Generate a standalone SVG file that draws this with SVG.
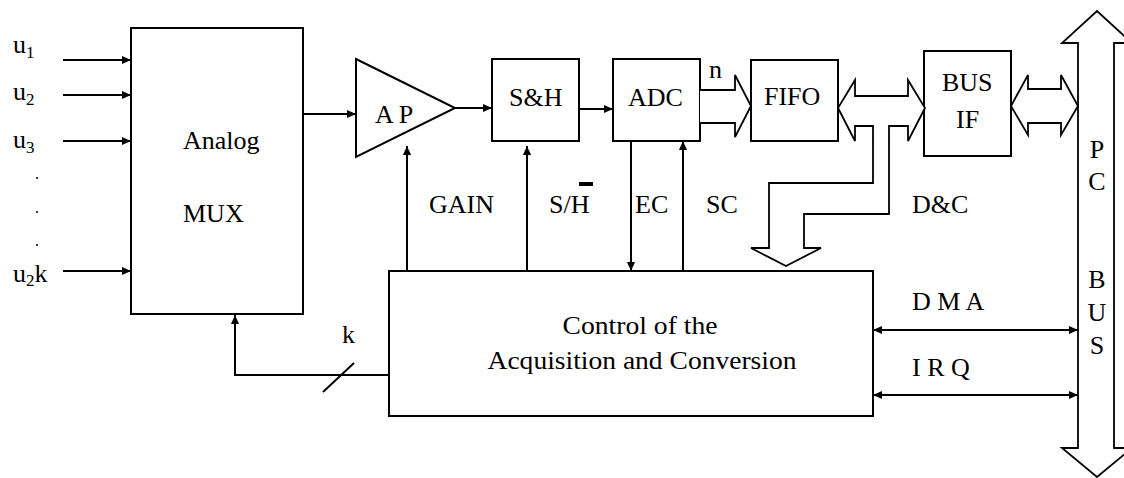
<svg xmlns="http://www.w3.org/2000/svg" width="1124" height="478" viewBox="0 0 1124 478">
<defs>
<style>
.bx{fill:none;stroke:#000;stroke-width:2}
.ln{fill:none;stroke:#000;stroke-width:2}
.fat{fill:#fff;stroke:#000;stroke-width:1.8;stroke-linejoin:miter}
text{font-family:'Liberation Serif','DejaVu Serif',serif;font-size:26px;fill:#000}
.sub{font-size:17px}
</style>
<marker id="ah" markerUnits="userSpaceOnUse" markerWidth="10" markerHeight="8" refX="9" refY="4" orient="auto-start-reverse">
<path d="M0,0 L9,4 L0,8 Z" fill="#000"/>
</marker>
</defs>
<rect x="0" y="0" width="1124" height="478" fill="#fff"/>

<g id="inputs">
<text x="13" y="53">u<tspan class="sub" dy="5">1</tspan></text>
<text x="13" y="100">u<tspan class="sub" dy="5">2</tspan></text>
<text x="13" y="148">u<tspan class="sub" dy="5">3</tspan></text>
<circle cx="37" cy="178" r="1" fill="#000"/>
<circle cx="37" cy="212" r="1" fill="#000"/>
<circle cx="37" cy="245" r="1" fill="#000"/>
<text x="13" y="282">u<tspan class="sub" dy="4">2</tspan><tspan dy="-4">k</tspan></text>
</g>

<g id="mux">
<rect class="bx" x="131" y="28" width="172" height="286"/>
<text x="183" y="149">Analog</text>
<text x="183" y="222">MUX</text>
</g>

<g id="amp">
<path class="bx" d="M356,59 L455,108 L356,157 Z"/>
<text x="375" y="123">A P</text>
</g>

<g id="sh">
<rect class="bx" x="492" y="59" width="87" height="82"/>
<text x="509" y="106">S&amp;H</text>
</g>

<g id="adc">
<rect class="bx" x="613" y="59" width="87" height="82"/>
<text x="628" y="106">ADC</text>
</g>

<g id="fifo">
<rect class="bx" x="751" y="60" width="87" height="81"/>
<text x="764" y="105">FIFO</text>
</g>

<g id="busif">
<rect class="bx" x="924" y="51" width="87" height="105"/>
<text x="942" y="91">BUS</text>
<text x="956" y="128">IF</text>
</g>

<g id="control">
<rect class="bx" x="389" y="271" width="484" height="145"/>
<text x="640" y="334" text-anchor="middle" textLength="155" lengthAdjust="spacingAndGlyphs">Control of the</text>
<text x="642" y="369" text-anchor="middle" textLength="309" lengthAdjust="spacingAndGlyphs">Acquisition and Conversion</text>
</g>

<g id="pcbus">
<path class="fat" d="M1078,43 L1062,43 L1097,11 L1132,43 L1114,43 L1114,448 L1132,448 L1097,477 L1062,448 L1078,448 Z"/>
<text x="1097" y="158" text-anchor="middle">P</text>
<text x="1097" y="190" text-anchor="middle">C</text>
<text x="1097" y="288" text-anchor="middle">B</text>
<text x="1097" y="321" text-anchor="middle">U</text>
<text x="1097" y="354" text-anchor="middle">S</text>
</g>

<g id="connectors">
<line class="ln" x1="63" y1="60" x2="131" y2="60" marker-end="url(#ah)"/>
<line class="ln" x1="63" y1="95" x2="131" y2="95" marker-end="url(#ah)"/>
<line class="ln" x1="63" y1="141" x2="131" y2="141" marker-end="url(#ah)"/>
<line class="ln" x1="63" y1="271" x2="131" y2="271" marker-end="url(#ah)"/>
<line class="ln" x1="303" y1="114" x2="356" y2="114" marker-end="url(#ah)"/>
<line class="ln" x1="455" y1="108" x2="492" y2="108" marker-end="url(#ah)"/>
<line class="ln" x1="579" y1="109" x2="613" y2="109" marker-end="url(#ah)"/>
<line class="ln" x1="407" y1="271" x2="407" y2="146" marker-end="url(#ah)"/>
<line class="ln" x1="527" y1="271" x2="527" y2="146" marker-end="url(#ah)"/>
<line class="ln" x1="631" y1="141" x2="631" y2="271" marker-end="url(#ah)"/>
<line class="ln" x1="683" y1="271" x2="683" y2="141" marker-end="url(#ah)"/>
<polyline class="ln" points="389,375 235,375 235,315" marker-end="url(#ah)"/>
<line class="ln" x1="323" y1="392" x2="354" y2="363" stroke-width="1.5"/>
<line class="ln" x1="873" y1="330" x2="1078" y2="330" marker-start="url(#ah)" marker-end="url(#ah)"/>
<line class="ln" x1="873" y1="395" x2="1078" y2="395" marker-start="url(#ah)" marker-end="url(#ah)"/>
<path class="fat" d="M700,90 L735,90 L735,75 L751,106 L735,137 L735,123 L700,123"/>
<path class="fat" d="M855,96 L908,96 L908,80 L925,108 L908,141 L908,126 L889,126 L889,214 L804,214 L804,248 L821,248 L786,266 L751,248 L769,248 L769,183 L873,183 L873,126 L855,126 L855,141 L838,108 L855,80 Z"/>
<path class="fat" d="M1028,89 L1061,89 L1061,75 L1078,106 L1061,135 L1061,123 L1028,123 L1028,135 L1011,106 L1028,75 Z"/>
<text x="709" y="78">n</text>
<text x="429" y="213">GAIN</text>
<text x="549" y="213">S/H</text>
<rect x="579" y="182" width="14" height="4" fill="#000"/>
<text x="635" y="213">EC</text>
<text x="706" y="213">SC</text>
<text x="912" y="213">D&amp;C</text>
<text x="342" y="343">k</text>
<text x="912" y="310">D M A</text>
<text x="912" y="376">I R Q</text>
</g>
</svg>
